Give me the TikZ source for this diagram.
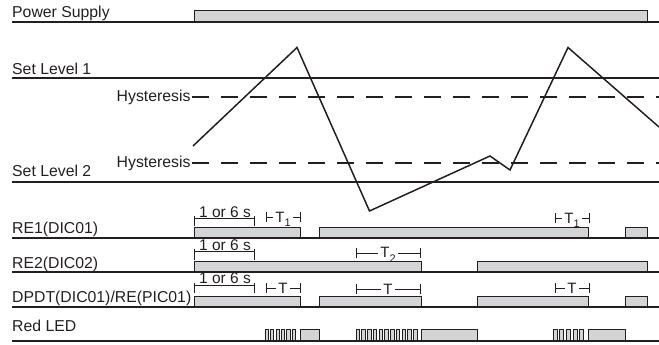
\documentclass[tikz,border=0pt]{standalone}
\usepackage{fontspec}
\setmainfont{Liberation Sans}
\definecolor{pgray}{RGB}{211,212,214}
\definecolor{ink}{RGB}{35,31,32}
\tikzset{
  baseln/.style={line width=1.9pt, draw=ink},
  pulse/.style={fill=pgray, draw=ink, line width=0.9pt},
  blink/.style={fill=pgray, draw=ink, line width=0.6pt},
  lbl/.style={font=\fontsize{15.8}{18}\selectfont, anchor=base west, inner sep=0pt, text=ink},
  hyst/.style={line width=1.9pt, draw=ink, dash pattern=on 16.5pt off 12.5pt},
  wave/.style={line width=1.5pt, draw=ink, line join=miter},
  dimln/.style={line width=0.7pt, draw=ink},
  dimtxt/.style={font=\fontsize{15.5}{17}\selectfont, anchor=base, inner sep=0pt, text=ink},
  ttxt/.style={font=\fontsize{15}{17}\selectfont, anchor=base, fill=white, inner xsep=2.5pt, inner ysep=0pt, text depth=0pt, text=ink},
}
\newcommand{\subs}[1]{\raisebox{-0.32em}{\fontsize{11}{11}\selectfont #1}}
\begin{document}
\begin{tikzpicture}[x=1pt,y=-1pt]
\useasboundingbox (0,0) rectangle (659,345);

% ---------- Power supply
\draw[pulse] (194,22) rectangle (647,10.7);
\coordinate (psL) at (12,22); \coordinate (psR) at (659,22);
\draw[baseln] (psL) -- (psR);
\node[lbl] (ps) at (12,18) {Power Supply};

% ---------- Set levels and hysteresis
\coordinate (s1L) at (12,78); \coordinate (s1R) at (659,78);
\draw[baseln] (s1L) -- (s1R);
\node[lbl] (sl1) at (12,74.5) {Set Level 1};
\coordinate (s2L) at (12,182); \coordinate (s2R) at (659,182);
\draw[baseln] (s2L) -- (s2R);
\node[lbl] (sl2) at (12,176.5) {Set Level 2};

\node[lbl] (h1) at (116.5,101.5) {Hysteresis};
\node[lbl] (h2) at (116.5,167) {Hysteresis};
\coordinate (h1L) at (192.3,97); \coordinate (h1R) at (659,97);
\coordinate (h2L) at (192.3,163); \coordinate (h2R) at (659,163);
\draw[hyst] (h1L) -- (h1R);
\draw[hyst] (h2L) -- (h2R);

% ---------- process value wave
\coordinate (w0) at (193,146);
\coordinate (w1) at (297,47.5);
\coordinate (w2) at (369.5,211);
\coordinate (w3) at (490,156);
\coordinate (w4) at (510,170);
\coordinate (w5) at (568,47.5);
\coordinate (w6) at (659,127);
\draw[wave] (w0) -- (w1) -- (w2) -- (w3) -- (w4) -- (w5) -- (w6);

% ---------- RE1
\draw[pulse] (194,238) rectangle (300,227.7);
\draw[pulse] (319,238) rectangle (588,227.7);
\draw[pulse] (625,238) rectangle (647,227.7);
\coordinate (r1L) at (12,238); \coordinate (r1R) at (659,238);
\draw[baseln] (r1L) -- (r1R);
\node[lbl] (re1) at (12,233.3) {RE1(DIC01)};

% ---------- RE2
\draw[pulse] (194,272) rectangle (421,261.7);
\draw[pulse] (477,272) rectangle (647,261.7);
\coordinate (r2L) at (12,272); \coordinate (r2R) at (659,272);
\draw[baseln] (r2L) -- (r2R);
\node[lbl] (re2) at (12,268.3) {RE2(DIC02)};

% ---------- DPDT
\draw[pulse] (194,307) rectangle (300,296);
\draw[pulse] (319,307) rectangle (421,296);
\draw[pulse] (477,307) rectangle (588,296);
\draw[pulse] (625,307) rectangle (647,296);
\coordinate (dpL) at (12,307); \coordinate (dpR) at (659,307);
\draw[baseln] (dpL) -- (dpR);
\node[lbl] (dpdt) at (12,302) {DPDT(DIC01)/RE(PIC01)};

% ---------- Red LED
\foreach \i in {0,...,5} { \draw[blink] ({265+\i*5.4},341) rectangle ({265+\i*5.4+3.2},329.3); }
\draw[pulse] (300,341) rectangle (319,329.3);
\foreach \i in {0,...,10} { \draw[blink] ({356+\i*5.75},341) rectangle ({356+\i*5.75+3.4},329.3); }
\draw[pulse] (421,341) rectangle (477,329.3);
\foreach \i in {0,...,4} { \draw[blink] ({553+\i*6.6},341) rectangle ({553+\i*6.6+4},329.3); }
\draw[pulse] (588,341) rectangle (625,329.3);
\coordinate (ledL) at (12,341); \coordinate (ledR) at (659,341);
\draw[baseln] (ledL) -- (ledR);
\node[lbl] (led) at (12,331.7) {Red LED};

% ---------- "1 or 6 s" dimensions
\foreach \y/\n in {218.3/a, 251.7/b, 285/c} {
  \coordinate (d\n L) at (194,\y); \coordinate (d\n R) at (254,\y);
  \draw[dimln] (d\n L) -- (d\n R);
  \draw[dimln] ([yshift=-8pt]d\n L) -- ([yshift=2.5pt]d\n L);
  \draw[dimln] ([yshift=-8pt]d\n R) -- ([yshift=2.5pt]d\n R);
  \node[dimtxt] (t\n) at (225,{\y-1.3}) {1 or 6 s};
}

% ---------- T brackets
\newcommand{\tbrk}[6]{%
  \coordinate (#6L) at (#1,#3); \coordinate (#6R) at (#2,#3);
  \draw[dimln] (#6L) -- (#6R);
  \draw[dimln] ([yshift=-5pt]#6L) -- ([yshift=5pt]#6L);
  \draw[dimln] ([yshift=-5pt]#6R) -- ([yshift=5pt]#6R);
  \node[ttxt] (#6t) at ({(#1+#2)/2},#4) {#5};
}
\tbrk{266}{300}{217}{222}{T\subs{1}}{ta}
\tbrk{555}{589}{218}{223}{T\subs{1}}{tb}
\tbrk{356}{420}{253}{257.5}{T\subs{2}}{tc}
\tbrk{266}{300}{288}{293}{T}{td}
\tbrk{356}{420}{289}{294}{T}{te}
\tbrk{555}{589}{288}{293}{T}{tf}
\end{tikzpicture}
\end{document}
